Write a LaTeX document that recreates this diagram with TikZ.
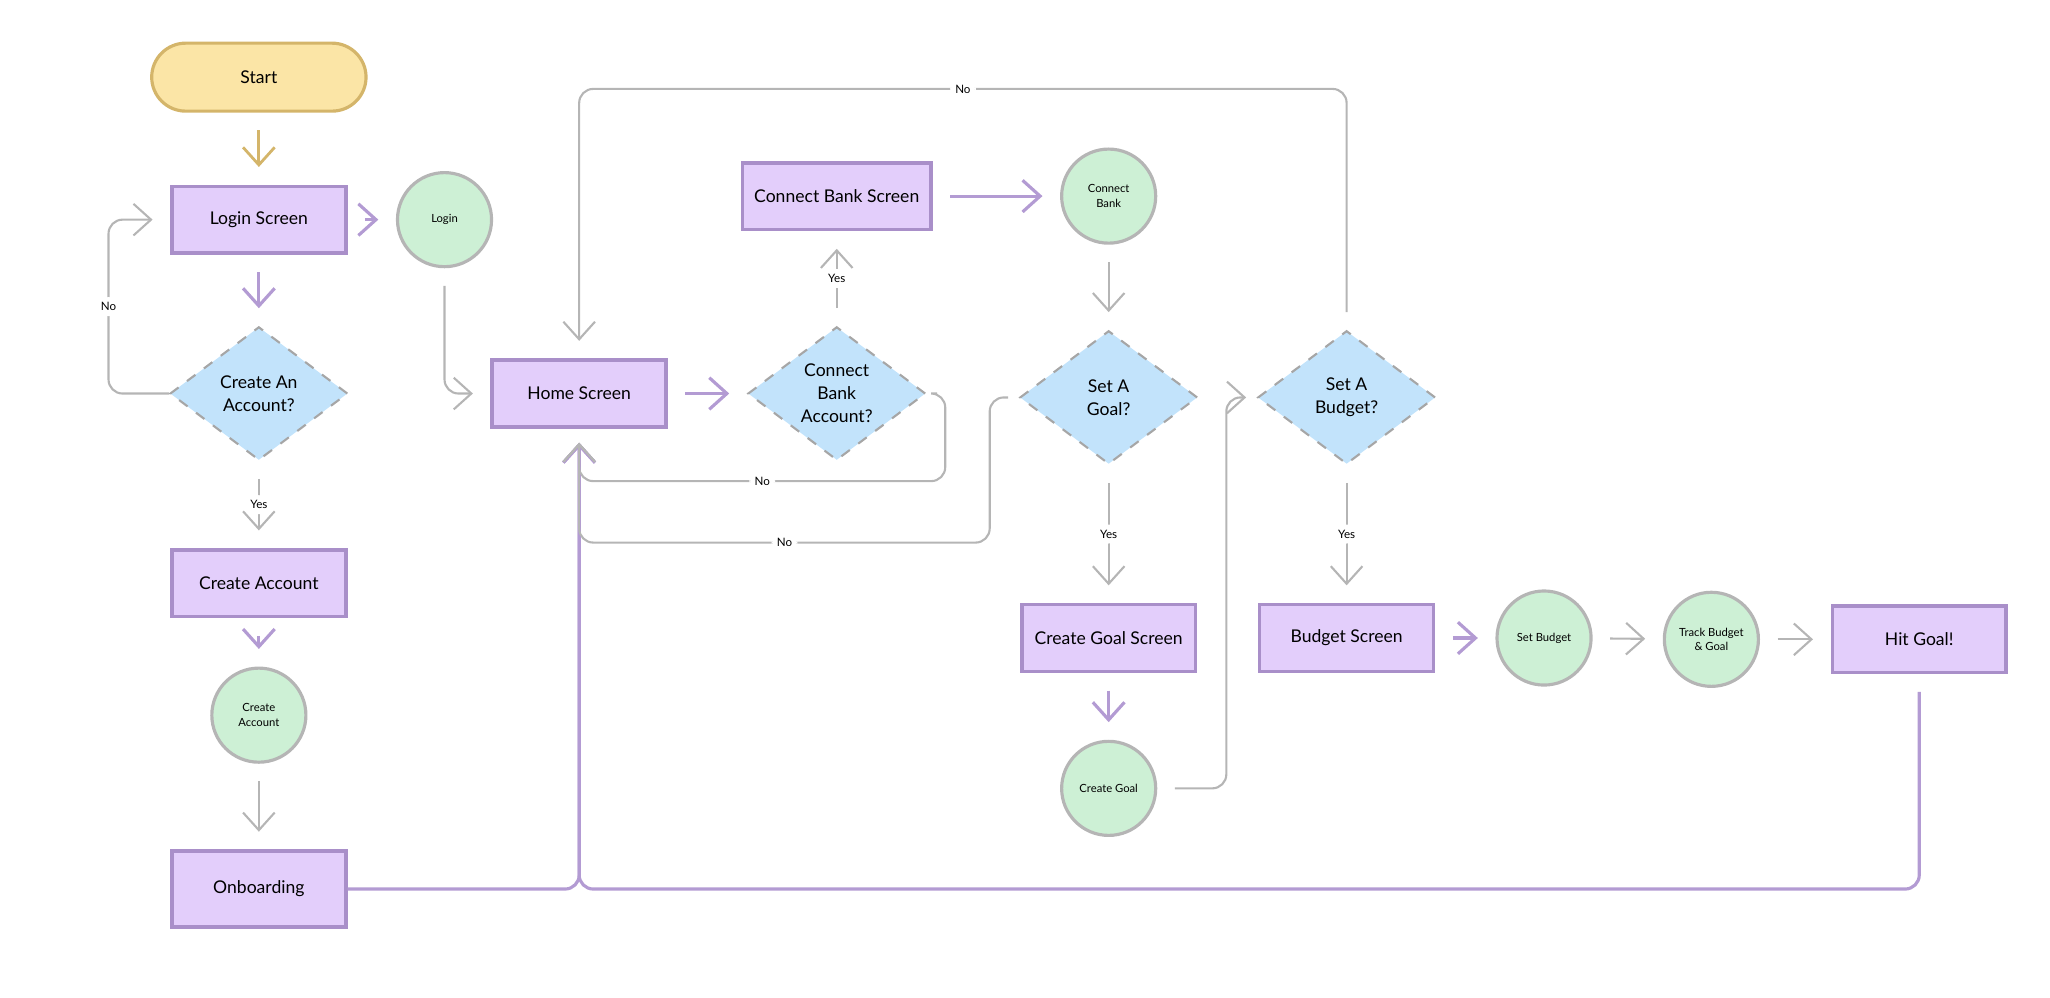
\documentclass[tikz,border=0pt]{standalone}
\usepackage{fontspec}
\setmainfont{Lato}
\usetikzlibrary{arrows.meta,shapes.geometric}
\definecolor{boxfill}{HTML}{E3CEFB}
\definecolor{boxline}{HTML}{A98FC9}
\definecolor{startfill}{HTML}{FBE5A6}
\definecolor{startline}{HTML}{D4B56A}
\definecolor{actfill}{HTML}{CDF0D5}
\definecolor{askfill}{HTML}{C2E3FB}
\definecolor{flowgray}{HTML}{B5B5B5}
\definecolor{flowpurple}{HTML}{B39BD3}
\tikzset{% change default arrow tips
    >={Straight Barb[length=5pt,width=9pt]}
}
\tikzset{
  screen/.style={draw=boxline, line width=1pt, fill=boxfill, minimum width=1.739cm,
    minimum height=0.667cm, font=\fontsize{5}{6}\selectfont},
  action/.style={circle, draw=flowgray, line width=0.9pt, fill=actfill, minimum size=0.941cm,
    inner sep=0pt, align=center, font=\fontsize{3.2}{4.2}\selectfont},
  ask/.style={diamond, draw=gray!70, dashed, line width=0.6pt, fill=askfill, minimum width=1.778cm,
    minimum height=1.334cm, inner sep=0pt, align=center, font=\fontsize{5}{6.5}\selectfont},
  gline/.style={draw=flowgray, line width=0.6pt, ->, rounded corners=4pt},
  pline/.style={draw=flowpurple, line width=0.9pt, ->, rounded corners=4pt},
  lbl/.style={fill=white, inner sep=1.5pt, font=\fontsize{3.3}{4}\selectfont}
}
\begin{document}
\begin{tikzpicture}[x=0.013074cm, y=-0.013074cm]
    \useasboundingbox (0,0) rectangle (1568,763);

    % left column
    \node[rounded corners=0.34cm, draw=startline, line width=0.9pt, fill=startfill,
      minimum width=2.144cm, minimum height=0.68cm, font=\fontsize{5}{6}\selectfont] (start) at (198,59) {Start};
    \node[screen] (login) at (198,168) {Login Screen};
    \node[action] (doLogin) at (340,168) {Login};
    \node[ask] (askAcct) at (198,301) {Create An\\Account?};
    \node[screen] (createAcct) at (198,446) {Create Account};
    \node[action] (doCreate) at (198,547) {Create\\Account};
    \node[screen, minimum height=0.76cm] (onboard) at (198,680) {Onboarding};

    % middle
    \node[screen] (home) at (443,301) {Home Screen};
    \node[ask] (askBank) at (640,301) {Connect\\Bank\\Account?};
    \node[screen] (bankScreen) at (640,150) {Connect Bank Screen};
    \node[action] (doBank) at (848,150) {Connect\\Bank};
    \node[ask] (askGoal) at (848,304) {Set A\\Goal?};
    \node[screen] (goalScreen) at (848,488) {Create Goal Screen};
    \node[action] (doGoal) at (848,603) {Create Goal};

    % right
    \node[ask] (askBudget) at (1030,304) {Set A\\Budget?};
    \node[screen] (budgetScreen) at (1030,488) {Budget Screen};
    \node[action] (doBudget) at (1181,488) {Set Budget};
    \node[action] (track) at (1309,489) {Track Budget\\\& Goal};
    \node[screen] (hit) at (1468,489) {Hit Goal!};

    % connectors
    \draw[->, draw=startline, line width=0.8pt, shorten <=5pt, shorten >=5pt] (start) -- (login);
    \draw[pline, shorten <=5pt, shorten >=5pt] (login) -- (doLogin);
    \draw[pline, shorten <=5pt, shorten >=5pt] (login) -- (askAcct);
    \draw[gline, shorten >=5pt] (askAcct.west) -- (83,301) -- node[lbl]{No} (83,168) -- (login.west);
    \draw[gline, shorten <=5pt, shorten >=5pt] (askAcct) -- node[lbl]{Yes} (createAcct);
    \draw[pline, shorten <=5pt, shorten >=5pt] (createAcct) -- (doCreate);
    \draw[gline, shorten <=5pt, shorten >=5pt] (doCreate) -- (onboard);
    \draw[pline, shorten >=4pt] (onboard.east) -- (443,680) -- (home.south);
    \draw[pline, shorten <=5pt, shorten >=4pt] (hit.south) -- (1468,680) -- (443,680) -- (home.south);
    \draw[gline, shorten <=5pt, shorten >=5pt] (doLogin.south) -- (340,301) -- (home.west);
    \draw[pline, shorten <=5pt, shorten >=5pt] (home) -- (askBank);
    \draw[gline, shorten <=5pt, shorten >=5pt] (askBank) -- node[lbl]{Yes} (bankScreen);
    \draw[gline, shorten <=3pt, shorten >=4pt] (askBank.east) -- (723,301) -- (723,368) -- node[lbl, pos=0.5]{No} (443,368) -- (home.south);
    \draw[pline, shorten <=5pt, shorten >=5pt] (bankScreen) -- (doBank);
    \draw[gline, shorten <=5pt, shorten >=5pt] (doBank) -- (askGoal);
    \draw[gline, shorten <=3pt, shorten >=4pt] (askGoal.west) -- (757,304) -- (757,415) -- node[lbl, pos=0.5]{No} (443,415) -- (home.south);
    \draw[gline, shorten <=5pt, shorten >=5pt] (askGoal) -- node[lbl]{Yes} (goalScreen);
    \draw[pline, shorten <=5pt, shorten >=5pt] (goalScreen) -- (doGoal);
    \draw[gline, shorten <=5pt, shorten >=3pt] (doGoal.east) -- (938,603) -- (938,304) -- (askBudget.west);
    \draw[gline, shorten <=5pt, shorten >=5pt] (askBudget.north) -- (1030,68) -- node[lbl]{No} (443,68) -- (home.north);
    \draw[gline, shorten <=5pt, shorten >=5pt] (askBudget) -- node[lbl]{Yes} (budgetScreen);
    \draw[pline, shorten <=5pt, shorten >=5pt] (budgetScreen) -- (doBudget);
    \draw[gline, shorten <=5pt, shorten >=5pt] (doBudget) -- (track);
    \draw[gline, shorten <=5pt, shorten >=5pt] (track) -- (hit);
\end{tikzpicture}
\end{document}
